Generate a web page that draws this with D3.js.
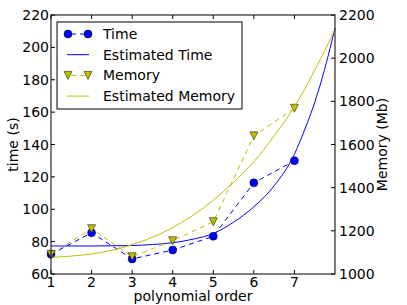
<!DOCTYPE html>
<html>
<head>
<meta charset="utf-8">
<script src="https://cdn.jsdelivr.net/npm/d3@7"></script>
<style>
  body { margin: 0; background: #fff; }
  text { font-family: "DejaVu Sans", sans-serif; font-size: 14px; fill: #000; }
</style>
</head>
<body>
<div id="chart"></div>
<script>
// measured points
var orders = [1, 2, 3, 4, 5, 6, 7];
var timeSec = [72.2, 85.5, 69.3, 74.8, 83.3, 116.3, 130];
var memoryMb = [1091, 1210, 1080, 1154, 1242, 1640, 1768];

// fitted curves
var estOrders = [1, 1.5, 2, 2.5, 3, 3.5, 4, 4.5, 5, 5.5, 6, 6.5, 7, 7.25, 7.5, 7.75, 8];
var estTime = [77.3, 77.3, 77.3, 77.4, 77.6, 78.2, 79.3, 81.5, 85, 92, 101.5, 114.5, 134, 149, 166, 187, 212];
var estMemory = [1077, 1083, 1093, 1110, 1136, 1170, 1215, 1272, 1342, 1425, 1520, 1640, 1775, 1855, 1945, 2035, 2135];

var xTicks = [1, 2, 3, 4, 5, 6, 7];
var timeTicks = [60, 80, 100, 120, 140, 160, 180, 200, 220];
var memTicks = [1000, 1200, 1400, 1600, 1800, 2000, 2200];
var legendLabels = ["Time", "Estimated Time", "Memory", "Estimated Memory"];

var width = 407, height = 305;
var margin = { top: 15, right: 72, bottom: 31, left: 51 };
var blue = "#0000ff", yellow = "#bfbf00";

var svg = d3.select("#chart").append("svg")
            .attr("width", width)
            .attr("height", height);

var x = d3.scaleLinear().domain([1, 8]).range([margin.left, width - margin.right]);
var y = d3.scaleLinear().domain([60, 220]).range([height - margin.bottom, margin.top]);
var y2 = d3.scaleLinear().domain([1000, 2200]).range([height - margin.bottom, margin.top]);

var x0 = margin.left, x1 = width - margin.right;
var yb = height - margin.bottom, yt = margin.top;

var timeLine = d3.line().x(function(d, i){ return x(orders[i]); }).y(function(d){ return y(d); });
var memLine = d3.line().x(function(d, i){ return x(orders[i]); }).y(function(d){ return y2(d); });
var estTimeLine = d3.line().curve(d3.curveMonotoneX)
          .x(function(d, i){ return x(estOrders[i]); }).y(function(d){ return y(d); });
var estMemLine = d3.line().curve(d3.curveMonotoneX)
          .x(function(d, i){ return x(estOrders[i]); }).y(function(d){ return y2(d); });

var plot = svg.append("g");

// time series
plot.append("path").datum(timeSec).attr("d", timeLine)
    .attr("fill", "none").attr("stroke", blue).attr("stroke-width", 1).attr("stroke-dasharray", "5,4");
plot.selectAll(".dot").data(timeSec).enter().append("circle")
    .attr("cx", function(d, i){ return x(orders[i]); })
    .attr("cy", function(d){ return y(d); })
    .attr("r", 4)
    .attr("fill", blue).attr("stroke", "#000").attr("stroke-width", 0.5);
plot.append("path").datum(estTime).attr("d", estTimeLine)
    .attr("fill", "none").attr("stroke", blue).attr("stroke-width", 1);

// memory series (twin axis)
var tri = "M-4,-4L4,-4L0,4Z";
plot.append("path").datum(memoryMb).attr("d", memLine)
    .attr("fill", "none").attr("stroke", yellow).attr("stroke-width", 1).attr("stroke-dasharray", "5,4");
plot.selectAll(".tri").data(memoryMb).enter().append("path")
    .attr("d", tri)
    .attr("transform", function(d, i){ return "translate(" + x(orders[i]) + "," + y2(d) + ")"; })
    .attr("fill", yellow).attr("stroke", "#000").attr("stroke-width", 0.5);
plot.append("path").datum(estMemory).attr("d", estMemLine)
    .attr("fill", "none").attr("stroke", yellow).attr("stroke-width", 1);

// frame
svg.append("rect").attr("x", x0).attr("y", yt).attr("width", x1 - x0).attr("height", yb - yt)
   .attr("fill", "none").attr("stroke", "#000").attr("stroke-width", 1);

// ticks, matplotlib style (inside)
var axes = svg.append("g");
xTicks.forEach(function(t){
  axes.append("line").attr("x1", x(t)).attr("x2", x(t)).attr("y1", yb).attr("y2", yb - 4).attr("stroke", "#000");
  axes.append("line").attr("x1", x(t)).attr("x2", x(t)).attr("y1", yt).attr("y2", yt + 4).attr("stroke", "#000");
  axes.append("text").attr("x", x(t)).attr("y", yb + 13).attr("text-anchor", "middle").text(t);
});
timeTicks.forEach(function(t){
  axes.append("line").attr("x1", x0).attr("x2", x0 + 4).attr("y1", y(t)).attr("y2", y(t)).attr("stroke", "#000");
  axes.append("text").attr("x", x0 - 2).attr("y", y(t)).attr("dy", "0.36em").attr("text-anchor", "end").text(t);
});
memTicks.forEach(function(t){
  axes.append("line").attr("x1", x1).attr("x2", x1 - 4).attr("y1", y2(t)).attr("y2", y2(t)).attr("stroke", "#000");
  axes.append("text").attr("x", x1 + 4).attr("y", y2(t)).attr("dy", "0.36em").attr("text-anchor", "start").text(t);
});

svg.append("text").attr("x", (x0 + x1) / 2).attr("y", 301).attr("text-anchor", "middle").text("polynomial order");
svg.append("text").attr("transform", "translate(18," + ((yt + yb) / 2) + ") rotate(-90)")
   .attr("text-anchor", "middle").text("time (s)");
svg.append("text").attr("transform", "translate(387," + ((yt + yb) / 2) + ") rotate(-90)")
   .attr("text-anchor", "middle").text("Memory (Mb)");

// legend
var lg = svg.append("g").attr("transform", "translate(57,22)");
lg.append("rect").attr("width", 185).attr("height", 87)
  .attr("fill", "#fff").attr("stroke", "#000").attr("stroke-width", 1);
legendLabels.forEach(function(label, i){
  var cy = 12 + i * 20.7;
  var col = i < 2 ? blue : yellow;
  var row = lg.append("g").attr("transform", "translate(0," + cy + ")");
  if (i % 2 == 0) {
    row.append("line").attr("x1", 11).attr("x2", 31).attr("stroke", col).attr("stroke-dasharray", "5,4").attr("stroke-dashoffset", -3);
    [11, 31].forEach(function(mx){
      if (i == 0) {
        row.append("circle").attr("cx", mx).attr("r", 4).attr("fill", col).attr("stroke", "#000").attr("stroke-width", 0.5);
      } else {
        row.append("path").attr("d", tri).attr("transform", "translate(" + mx + ",0)")
           .attr("fill", col).attr("stroke", "#000").attr("stroke-width", 0.5);
      }
    });
  } else {
    row.append("line").attr("x1", 10).attr("x2", 32).attr("stroke", col).attr("stroke-width", 1);
  }
  row.append("text").attr("x", 46).attr("dy", "0.36em").text(label);
});
</script>
</body>
</html>
